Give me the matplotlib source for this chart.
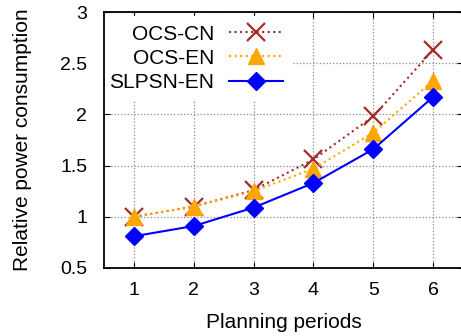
import matplotlib.pyplot as plt

plt.rcParams['font.family'] = ['Liberation Sans', 'DejaVu Sans']

periods = [1, 2, 3, 4, 5, 6]
ocs_cn = [1.0, 1.1, 1.26, 1.56, 1.98, 2.63]
ocs_en = [1.0, 1.1, 1.25, 1.47, 1.82, 2.33]
slpsn_en = [0.81, 0.91, 1.09, 1.33, 1.66, 2.17]

fig = plt.figure(figsize=(4.61, 3.36), dpi=100)
ax = fig.add_axes([104/461, (336-268)/336, 359/461, 256/336])

ax.plot(periods, ocs_cn, color='#a52a2a', linestyle=':', linewidth=1.5,
        marker='x', markersize=13, markeredgewidth=1.6, label='OCS-CN')
ax.plot(periods, ocs_en, color='#ffa500', linestyle=':', linewidth=1.5,
        marker='^', markersize=12, label='OCS-EN')
ax.plot(periods, slpsn_en, color='#0000ff', linestyle='-', linewidth=1.5,
        marker='D', markersize=9, label='SLPSN-EN')

ax.set_xlim(0.5, 6.5)
ax.set_ylim(0.5, 3)
ax.set_xticks(periods)
ax.set_yticks([0.5, 1, 1.5, 2, 2.5, 3])
ax.set_yticklabels(['0.5', '1', '1.5', '2', '2.5', '3'])
ax.grid(True, color='#888888', linestyle=':', linewidth=0.9)
ax.tick_params(direction='in', top=True, right=True, labelsize=14, length=4)
ax.tick_params(axis='y', pad=12)
ax.tick_params(axis='x', pad=10)
for s in ax.spines.values():
    s.set_linewidth(1.3)

ax.set_xlabel('Planning periods', fontsize=15, labelpad=10)
ax.set_ylabel('Relative power consumption', fontsize=15, labelpad=20)

leg = ax.legend(loc='upper left', markerfirst=False, frameon=True, fontsize=15,
                handlelength=2.6, handletextpad=0.7, borderaxespad=0.2,
                labelspacing=0.25, bbox_to_anchor=(-0.02, 1.0))
leg.get_frame().set_edgecolor('white')
leg.get_frame().set_alpha(1.0)
leg.get_frame().set_boxstyle('square', pad=0)
leg.set_zorder(2)
for t in leg.get_texts():
    t.set_ha('right')

fig.savefig('out.png')
